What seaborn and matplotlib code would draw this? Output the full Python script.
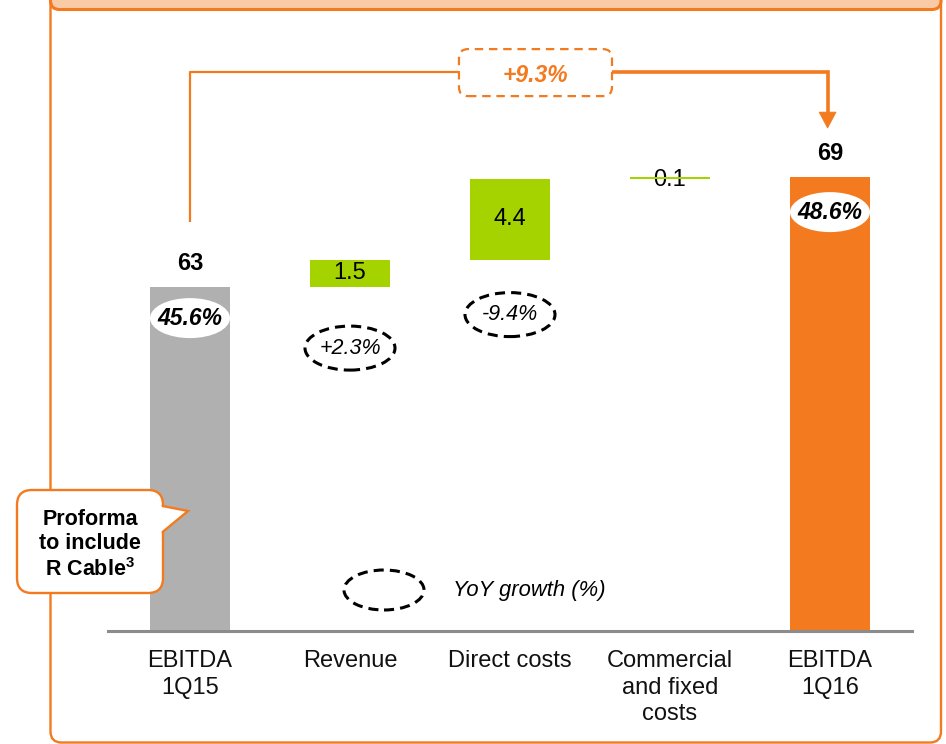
import numpy as np
import pandas as pd
import matplotlib
matplotlib.use("Agg")
import matplotlib.pyplot as plt
from matplotlib.patches import Ellipse, FancyBboxPatch, Polygon
import seaborn as sns

# ---- data -------------------------------------------------------------
categories = ["EBITDA\n1Q15", "Revenue", "Direct costs",
              "Commercial\nand fixed\ncosts", "EBITDA\n1Q16"]
ebitda_start = 63.0
ebitda_end = 69.0
deltas = [1.5, 4.4, 0.1]
value_labels = ["63", "1.5", "4.4", "0.1", "69"]
margin_labels = ["45.6%", "48.6%"]
growth_labels = ["+2.3%", "-9.4%"]
total_growth = "+9.3%"
legend_label = "YoY growth (%)"
callout_text = "Proforma\nto include\nR Cable$^{\\mathbf{3}}$"

# ---- style ------------------------------------------------------------
GRAY = "#B0B0B0"
GREEN = "#A5D300"
ORANGE = "#F37A1F"
PEACH = "#F8CBA6"

sns.set_theme(style="white")
plt.rcParams["font.family"] = ["Liberation Sans", "DejaVu Sans"]
plt.rcParams["mathtext.fontset"] = "custom"
plt.rcParams["mathtext.rm"] = "Liberation Sans"
plt.rcParams["mathtext.bf"] = "Liberation Sans:bold"

W, H = 946, 744
fig = plt.figure(figsize=(W / 100, H / 100), dpi=100)
ax = fig.add_axes([108 / W, (H - 631) / H, (912 - 108) / W, (631 - 20) / H])
ax.patch.set_alpha(0)

# waterfall geometry
running = ebitda_start + np.concatenate([[0.0], np.cumsum(deltas)[:-1]])
heights = [ebitda_start] + list(deltas) + [ebitda_end]
bottoms = [0.0] + list(running) + [0.0]
colors = [GRAY, GREEN, GREEN, GREEN, ORANGE]

df = pd.DataFrame({"step": categories, "value": heights})
sns.barplot(data=df, x="step", y="value", order=categories, bottom=bottoms,
            width=0.506, color=GRAY, saturation=1, ax=ax, errorbar=None)
for patch, c in zip(ax.patches, colors):
    patch.set_facecolor(c)
    patch.set_edgecolor("none")

ax.set_xlim(-0.5125, 4.5125)
ax.set_ylim(44.24, 77.57)
ax.set_xlabel("")
ax.set_ylabel("")
ax.set_yticks([])
for s in ["left", "right", "top"]:
    ax.spines[s].set_visible(False)
ax.spines["bottom"].set_color("#8C8C8C")
ax.spines["bottom"].set_linewidth(2.2)
ax.tick_params(axis="x", length=0, pad=14, labelsize=17, labelcolor="#111111")
for t in ax.get_xticklabels():
    t.set_linespacing(1.25)

# pixel -> data unit helpers
xs = ax.bbox.width / (ax.get_xlim()[1] - ax.get_xlim()[0])
ys = ax.bbox.height / (ax.get_ylim()[1] - ax.get_ylim()[0])
PT = 72 / 100  # points per pixel


def px_w(p):
    return p / xs


def px_h(p):
    return p / ys


tops = [b + h for b, h in zip(bottoms, heights)]

# totals: value above the bar, margin inside a white ellipse
for idx, lbl, m_lbl, m_off in [(0, value_labels[0], margin_labels[0], 31),
                               (4, value_labels[4], margin_labels[1], 35)]:
    ax.annotate(lbl, xy=(idx, tops[idx]), xytext=(0, 24 * PT),
                textcoords="offset points", ha="center", va="center",
                fontsize=17, fontweight="bold", color="black")
    cy = tops[idx] - px_h(m_off)
    ax.add_patch(Ellipse((idx, cy), px_w(80), px_h(40), fc="white", ec="none",
                         zorder=3))
    ax.text(idx, cy, m_lbl, ha="center", va="center", fontsize=16.5,
            fontweight="bold", fontstyle="italic", color="black", zorder=4)

# deltas: value inside the bar
for idx in [1, 2]:
    ax.text(idx, bottoms[idx] + heights[idx] / 2, value_labels[idx],
            ha="center", va="center", fontsize=17, color="black", zorder=4)
ax.annotate(value_labels[3], xy=(3, tops[3]), xytext=(0, -2.5 * PT),
            textcoords="offset points", ha="center", va="center",
            fontsize=17, color="black", zorder=0.5)

# year-on-year growth in dashed ellipses below the delta bars
dash = (0, (3.3, 2.0))
for idx, g_lbl, off in [(1, growth_labels[0], 61), (2, growth_labels[1], 55)]:
    cy = bottoms[idx] - px_h(off)
    ax.add_patch(Ellipse((idx, cy), px_w(90), px_h(44), fc="none", ec="black",
                         lw=2.2, ls=dash, zorder=3))
    ax.text(idx, cy, g_lbl, ha="center", va="center", fontsize=15.5,
            fontstyle="italic", color="black", zorder=4)

# legend for the dashed ellipse
leg_x, leg_y = 1.2125, ax.get_ylim()[0] + px_h(41)
ax.add_patch(Ellipse((leg_x, leg_y), px_w(80), px_h(40), fc="none", ec="black",
                     lw=2.2, ls=dash, zorder=3))
ax.text(leg_x + px_w(69), leg_y, legend_label, ha="left", va="center",
        fontsize=15.8, fontstyle="italic", color="black")

# total growth connector from EBITDA 1Q15 to EBITDA 1Q16
top_y = ebitda_end + px_h(105)
start_y = ebitda_start + px_h(65)
box_l, box_r = 1.681, 2.6375
box_b, box_t = top_y - px_h(24), top_y + px_h(23)
ax.plot([0, 0, box_l], [start_y, top_y, top_y], color=ORANGE, lw=1.6,
        solid_capstyle="butt", clip_on=False)
arrow_x = 3.985
head_len, head_w = px_h(16), px_w(17)
base_y = ebitda_end + px_h(49) + head_len
ax.plot([box_r, arrow_x, arrow_x], [top_y, top_y, base_y], color=ORANGE,
        lw=2.6, solid_joinstyle="miter", clip_on=False)
ax.add_patch(Polygon([(arrow_x - head_w / 2, base_y), (arrow_x + head_w / 2, base_y),
                      (arrow_x, base_y - head_len)], closed=True, fc=ORANGE,
                     ec=ORANGE, lw=0.5, clip_on=False))
ax.add_patch(FancyBboxPatch((box_l, box_b), box_r - box_l, box_t - box_b,
                            boxstyle=f"round,pad=0,rounding_size={px_w(9)}",
                            mutation_aspect=xs / ys, fc="white", ec=ORANGE,
                            lw=1.6, ls=(0, (3.8, 2.6)), clip_on=False, zorder=3))
ax.text((box_l + box_r) / 2, top_y - px_h(3), total_growth, ha="center",
        va="center", fontsize=16.5, fontweight="bold", fontstyle="italic",
        color=ORANGE, zorder=4)

# ---- page frame and side callout ---------------------------------------
ov = fig.add_axes([0, 0, 1, 1])
ov.set_xlim(0, W)
ov.set_ylim(H, 0)
ov.axis("off")
ov.patch.set_alpha(0)

ov.add_patch(FancyBboxPatch((50.5, -40), 890.5, 782.5,
                            boxstyle="round,pad=0,rounding_size=11",
                            fc="none", ec=ORANGE, lw=1.7))
ov.add_patch(FancyBboxPatch((50.5, -40), 890.5, 49.5,
                            boxstyle="round,pad=0,rounding_size=9",
                            fc=PEACH, ec=ORANGE, lw=2.2))

ov.add_patch(FancyBboxPatch((17, 490), 146, 103,
                            boxstyle="round,pad=0,rounding_size=15",
                            fc="white", ec=ORANGE, lw=1.7, zorder=5))
ov.add_patch(Polygon([(160, 506.5), (163, 506), (188, 511), (163, 532),
                      (160, 532.5)], closed=True, fc="white", ec="none",
                     zorder=6))
ov.plot([162.6, 188, 162.6], [506, 511, 532], color=ORANGE, lw=1.7, zorder=7,
        solid_joinstyle="miter")
ov.text(90, 545, callout_text, ha="center", va="center", fontsize=15.5,
        fontweight="bold", color="black", linespacing=1.22, zorder=8)

fig.savefig("out.png", dpi=100)
